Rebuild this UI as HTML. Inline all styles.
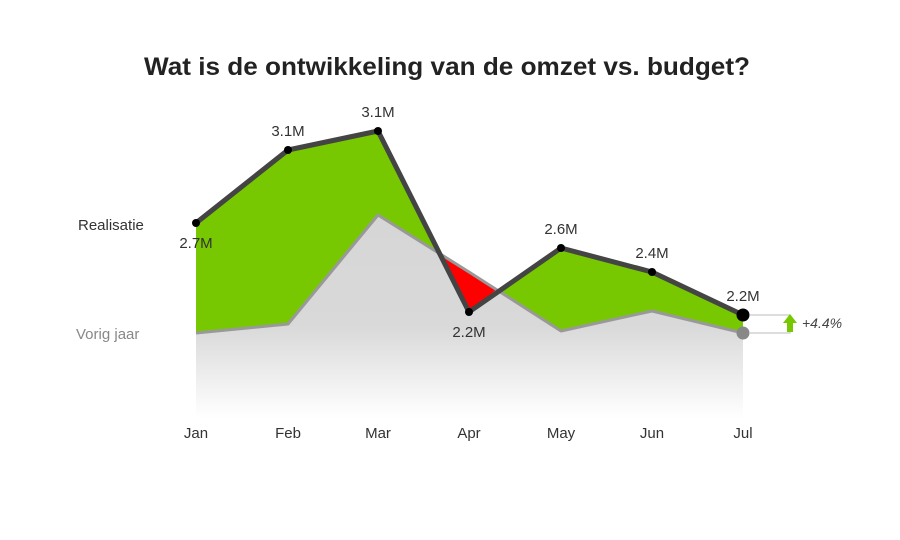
<!DOCTYPE html>
<html><head><meta charset="utf-8"><style>
html,body{margin:0;padding:0;background:#fff;width:900px;height:540px;overflow:hidden}
svg{display:block;font-family:"Liberation Sans","DejaVu Sans",sans-serif}
</style></head><body>
<svg width="900" height="540" viewBox="0 0 900 540">
<defs>
<linearGradient id="g" x1="0" y1="215" x2="0" y2="418" gradientUnits="userSpaceOnUse">
<stop offset="0" stop-color="#d6d6d6"/><stop offset="0.55" stop-color="#d9d9d9"/><stop offset="1" stop-color="#ffffff"/>
</linearGradient>
</defs>
<text x="447" y="75" text-anchor="middle" font-size="25" font-weight="bold" fill="#222" textLength="606" lengthAdjust="spacingAndGlyphs">Wat is de ontwikkeling van de omzet vs. budget?</text>
<polygon points="196,223 288,150 378,131 469,312 561,248 652,272 743,315 743,418 196,418" fill="#77c800"/>
<polygon points="196,333 288,324 378,215 469,272 561,331 652,311 743,333 743,418 196,418" fill="url(#g)"/>
<polygon points="442,255 469,312 497,289" fill="#ff0000"/>
<polyline points="196,333 288,324 378,215 469,272 561,331 652,311 743,333" fill="none" stroke="#999" stroke-width="3" stroke-linejoin="round"/>
<polyline points="196,223 288,150 378,131 469,312 561,248 652,272 743,315" fill="none" stroke="#444" stroke-width="5" stroke-linejoin="round"/>
<g fill="#000">
<circle cx="196" cy="223" r="4"/><circle cx="288" cy="150" r="4"/><circle cx="378" cy="131" r="4"/>
<circle cx="469" cy="312" r="4"/><circle cx="561" cy="248" r="4"/><circle cx="652" cy="272" r="4"/>
<circle cx="743" cy="315" r="6.5"/></g>
<circle cx="743" cy="333" r="6.5" fill="#888"/>
<g font-size="15" fill="#333" text-anchor="middle">
<text x="196" y="248">2.7M</text><text x="288" y="136">3.1M</text><text x="378" y="117">3.1M</text>
<text x="469" y="337">2.2M</text><text x="561" y="234">2.6M</text><text x="652" y="258">2.4M</text><text x="743" y="301">2.2M</text>
</g>
<text x="78" y="230" font-size="15" fill="#333">Realisatie</text>
<text x="76" y="339" font-size="15" fill="#888">Vorig jaar</text>
<path d="M750 315 H790 V333 H750" fill="none" stroke="#bbb" stroke-width="1"/>
<polygon points="790,314 797,323 793,323 793,332 787,332 787,323 783,323" fill="#77c800"/>
<text x="802" y="328" font-size="14" font-style="italic" fill="#444">+4.4%</text>
<g font-size="15" fill="#333" text-anchor="middle">
<text x="196" y="438">Jan</text><text x="288" y="438">Feb</text><text x="378" y="438">Mar</text><text x="469" y="438">Apr</text>
<text x="561" y="438">May</text><text x="652" y="438">Jun</text><text x="743" y="438">Jul</text>
</g>
</svg>
</body></html>
